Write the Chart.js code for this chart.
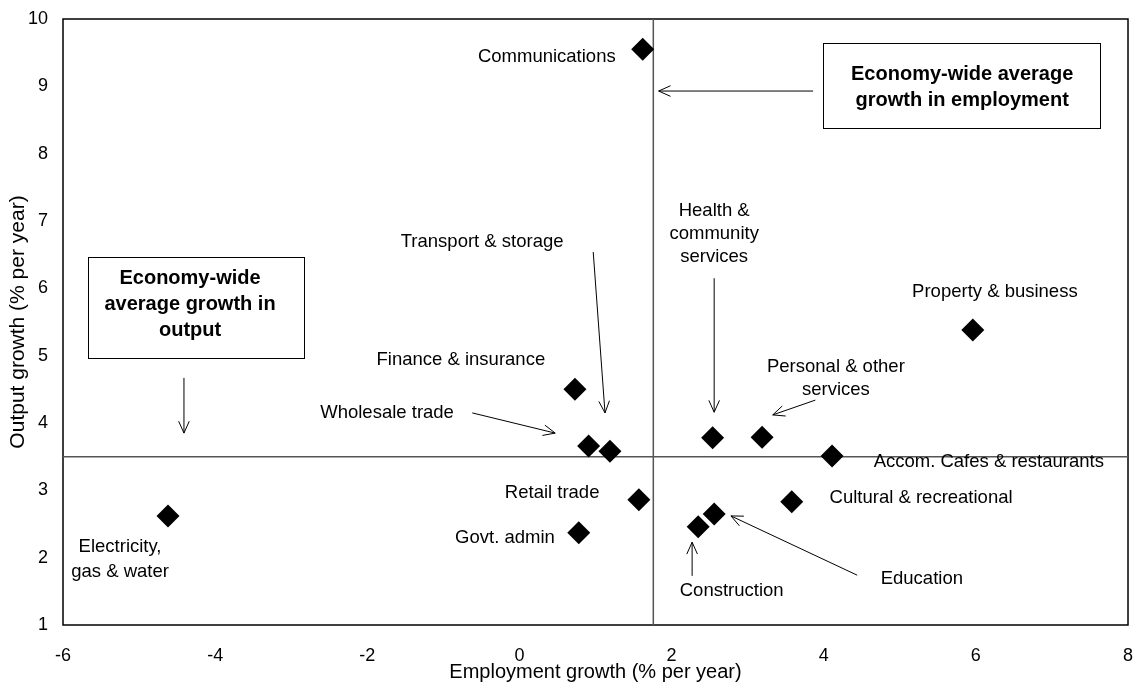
<!DOCTYPE html>
<html>
<meta charset="UTF-8">
<title>Output and employment growth by industry</title>
<style type="text/css">
	html,
	body {
		margin: 0px;
		background: #fff;
		overflow: hidden;
	}

	.container {
		width: 1134px;
		height: 686px;
	}
</style>
<script src="https://cdn.jsdelivr.net/npm/chart.js"></script>

<body>

	<div class="container"><canvas id="myCanvas"></canvas></div>

	<script>
		// industries and their growth rates (% per year)
		var industries = [
			'Communications', 'Property & business', 'Finance & insurance', 'Wholesale trade',
			'Transport & storage', 'Health & community services', 'Personal & other services',
			'Accom. Cafes & restaurants', 'Retail trade', 'Cultural & recreational',
			'Education', 'Construction', 'Govt. admin', 'Electricity, gas & water'
		];
		var employmentGrowth = [1.62, 5.96, 0.73, 0.91, 1.19, 2.54, 3.19, 4.11, 1.57, 3.58, 2.56, 2.35, 0.78, -4.62];
		var outputGrowth = [9.55, 5.38, 4.50, 3.66, 3.58, 3.78, 3.79, 3.51, 2.86, 2.83, 2.65, 2.46, 2.37, 2.62];

		// economy-wide averages
		var avgEmploymentGrowth = 1.76;
		var avgOutputGrowth = 3.5;

		var xTicks = [-6, -4, -2, 0, 2, 4, 6, 8];
		var yTicks = [1, 2, 3, 4, 5, 6, 7, 8, 9, 10];

		// text labels placed in data units (lines stack downwards)
		var notes = [
			{ lines: ['Communications'], x: 0.36, y: 9.44 },
			{ lines: ['Property & business'], x: 6.25, y: 5.95 },
			{ lines: ['Transport & storage'], x: -0.49, y: 6.69 },
			{ lines: ['Finance & insurance'], x: -0.77, y: 4.94 },
			{ lines: ['Wholesale trade'], x: -1.74, y: 4.15 },
			{ lines: ['Health &', 'community', 'services'], x: 2.56, y: 7.15 },
			{ lines: ['Personal & other', 'services'], x: 4.16, y: 4.83 },
			{ lines: ['Accom. Cafes & restaurants'], x: 6.17, y: 3.42 },
			{ lines: ['Retail trade'], x: 0.43, y: 2.96 },
			{ lines: ['Cultural & recreational'], x: 5.28, y: 2.89 },
			{ lines: ['Govt. admin'], x: -0.19, y: 2.29 },
			{ lines: ['Electricity,', 'gas & water'], x: -5.25, y: 2.16, gap: 25 },
			{ lines: ['Education'], x: 5.29, y: 1.68 },
			{ lines: ['Construction'], x: 2.79, y: 1.50 },
			{ lines: ['Economy-wide average', 'growth in employment'], x: 5.82, y: 9.17, gap: 26, bold: true },
			{ lines: ['Economy-wide', 'average growth in', 'output'], x: -4.33, y: 6.15, gap: 26, bold: true }
		];

		var boxes = [
			{ x1: 3.99, x2: 7.63, y1: 8.38, y2: 9.64 },
			{ x1: -5.67, x2: -2.83, y1: 4.97, y2: 6.47 }
		];

		var arrows = [
			{ from: [3.86, 8.93], to: [1.83, 8.93] },
			{ from: [-4.41, 4.67], to: [-4.41, 3.85] },
			{ from: [0.97, 6.54], to: [1.125, 4.15] },
			{ from: [-0.62, 4.15], to: [0.47, 3.85] },
			{ from: [2.56, 6.15], to: [2.56, 4.16] },
			{ from: [3.89, 4.34], to: [3.33, 4.12] },
			{ from: [4.44, 1.74], to: [2.78, 2.62] },
			{ from: [2.27, 1.73], to: [2.27, 2.23] }
		];

		var fontFamily = '"Liberation Sans", Arial, sans-serif';
		Chart.defaults.font.family = fontFamily;
		Chart.defaults.color = '#000';

		var points = industries.map(function (name, i) {
			return { x: employmentGrowth[i], y: outputGrowth[i], name: name };
		});

		function drawArrow(ctx, x1, y1, x2, y2) {
			var ang = Math.atan2(y2 - y1, x2 - x1);
			var len = 13, spread = 0.42;
			ctx.beginPath();
			ctx.moveTo(x1, y1);
			ctx.lineTo(x2, y2);
			ctx.moveTo(x2 - len * Math.cos(ang - spread), y2 - len * Math.sin(ang - spread));
			ctx.lineTo(x2, y2);
			ctx.lineTo(x2 - len * Math.cos(ang + spread), y2 - len * Math.sin(ang + spread));
			ctx.stroke();
		}

		// no extra room for tick labels, the layout padding handles it
		function noScalePadding(s) {
			s.paddingTop = 0;
			s.paddingBottom = 0;
			s.paddingLeft = 0;
			s.paddingRight = 0;
		}

		var annotate = {
			id: 'annotate',
			beforeDatasetsDraw: function (chart) {
				var ctx = chart.ctx, a = chart.chartArea;
				ctx.save();
				ctx.strokeStyle = '#000';
				ctx.lineWidth = 1.5;
				ctx.strokeRect(a.left, a.top, a.right - a.left, a.bottom - a.top);
				ctx.restore();
			},
			afterDatasetsDraw: function (chart) {
				var ctx = chart.ctx;
				var xs = chart.scales.x, ys = chart.scales.y;
				ctx.save();
				ctx.strokeStyle = '#000';
				ctx.lineWidth = 1;
				boxes.forEach(function (b) {
					var l = Math.round(xs.getPixelForValue(b.x1)) + 0.5;
					var r = Math.round(xs.getPixelForValue(b.x2)) + 0.5;
					var t = Math.round(ys.getPixelForValue(b.y2)) + 0.5;
					var btm = Math.round(ys.getPixelForValue(b.y1)) + 0.5;
					ctx.fillStyle = '#fff';
					ctx.fillRect(l, t, r - l, btm - t);
					ctx.strokeRect(l, t, r - l, btm - t);
				});
				arrows.forEach(function (ar) {
					drawArrow(ctx,
						xs.getPixelForValue(ar.from[0]), ys.getPixelForValue(ar.from[1]),
						xs.getPixelForValue(ar.to[0]), ys.getPixelForValue(ar.to[1]));
				});
				ctx.fillStyle = '#000';
				ctx.textAlign = 'center';
				ctx.textBaseline = 'middle';
				notes.forEach(function (n) {
					ctx.font = n.bold ? 'bold 20px ' + fontFamily : '18.5px ' + fontFamily;
					var px = xs.getPixelForValue(n.x);
					var py = ys.getPixelForValue(n.y);
					var gap = n.gap || 23;
					n.lines.forEach(function (line, k) {
						ctx.fillText(line, px, py + k * gap);
					});
				});
				ctx.restore();
			}
		};

		var config = {
			type: 'scatter',
			data: {
				datasets: [
					{
						label: 'Industries',
						data: points,
						pointStyle: 'rectRot',
						pointRadius: 11.5,
						pointHoverRadius: 11.5,
						backgroundColor: '#000',
						borderColor: '#000',
						borderWidth: 0
					},
					{
						label: 'Average employment growth',
						data: [{ x: avgEmploymentGrowth, y: yTicks[0] }, { x: avgEmploymentGrowth, y: yTicks[yTicks.length - 1] }],
						showLine: true,
						pointRadius: 0,
						borderColor: '#555',
						borderWidth: 1.5
					},
					{
						label: 'Average output growth',
						data: [{ x: xTicks[0], y: avgOutputGrowth }, { x: xTicks[xTicks.length - 1], y: avgOutputGrowth }],
						showLine: true,
						pointRadius: 0,
						borderColor: '#555',
						borderWidth: 1.5
					}
				]
			},
			options: {
				responsive: true,
				maintainAspectRatio: false,
				animation: false,
				layout: {
					autoPadding: false,
					padding: { top: 19, right: 6, left: 0, bottom: 0 }
				},
				plugins: {
					legend: { display: false },
					tooltip: { enabled: false }
				},
				scales: {
					x: {
						type: 'linear',
						min: xTicks[0],
						max: xTicks[xTicks.length - 1],
						afterBuildTicks: function (s) { s.ticks = xTicks.map(function (v) { return { value: v }; }); },
						afterFit: function (s) { s.height = 61; noScalePadding(s); },
						grid: { display: false, drawTicks: false },
						border: { display: false },
						ticks: { font: { size: 18 }, padding: 20, maxRotation: 0 },
						title: {
							display: true,
							text: 'Employment growth (% per year)',
							font: { size: 20 },
							padding: { top: 0, bottom: 2 }
						}
					},
					y: {
						type: 'linear',
						min: yTicks[0],
						max: yTicks[yTicks.length - 1],
						afterBuildTicks: function (s) { s.ticks = yTicks.map(function (v) { return { value: v }; }); },
						afterFit: function (s) { s.width = 63; noScalePadding(s); },
						grid: { display: false, drawTicks: false },
						border: { display: false },
						ticks: { font: { size: 18 }, padding: 15 },
						title: {
							display: true,
							text: 'Output growth (% per year)',
							font: { size: 21 },
							padding: { top: 6, bottom: 0 }
						}
					}
				}
			},
			plugins: [annotate]
		};

		var myChart = new Chart(document.getElementById('myCanvas'), config);
	</script>
</body>

</html>
